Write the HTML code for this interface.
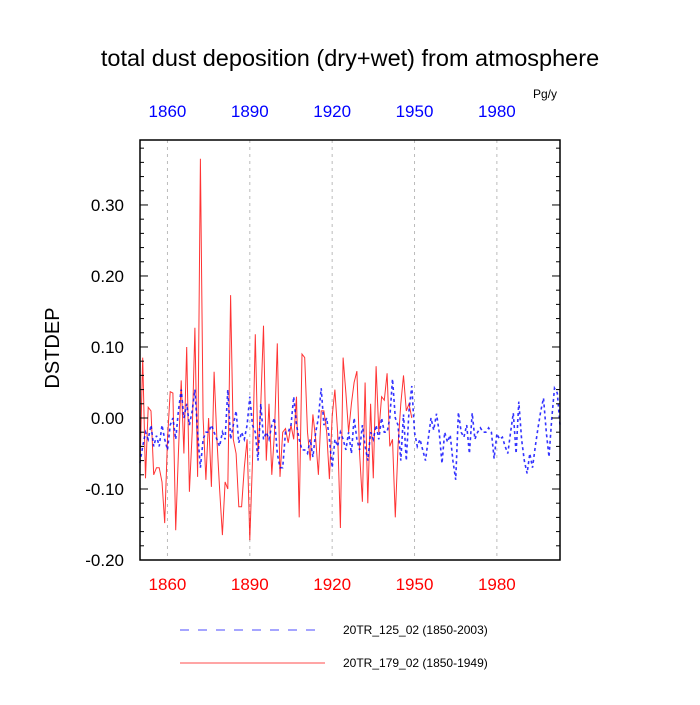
<!DOCTYPE html>
<html><head><meta charset="utf-8"><style>
body{margin:0;background:#fff;}
svg text{font-family:"Liberation Sans",sans-serif;}
</style></head><body>
<svg id="chart" width="700" height="700" viewBox="0 0 700 700" xmlns="http://www.w3.org/2000/svg">
<text x="350" y="66" text-anchor="middle" font-size="23.5">total dust deposition (dry+wet) from atmosphere</text>
<text x="545" y="98" text-anchor="middle" font-size="12">Pg/y</text>
<text transform="translate(59,348) rotate(-90)" text-anchor="middle" font-size="20">DSTDEP</text>
<g id="grid"></g>
<g id="series"></g>
<rect x="140" y="140" width="420" height="420" fill="none" stroke="#000" stroke-width="1.5"/>
<g id="axes"></g>
<g>
<line x1="180" y1="630" x2="318" y2="630" stroke="#00f" stroke-width="1" stroke-dasharray="9,9" opacity="0.7"/>
<text x="343" y="634" font-size="12">20TR_125_02 (1850-2003)</text>
<line x1="180" y1="663" x2="325" y2="663" stroke="#f00" stroke-width="1" opacity="0.7"/>
<text x="343" y="667" font-size="12">20TR_179_02 (1850-1949)</text>
</g>
</svg>
<script>
const redValues=[-0.07,0.085,-0.085,0.015,0.01,-0.08,-0.07,-0.07,-0.09,-0.148,-0.03,0.037,0.035,-0.158,-0.05,0.053,-0.05,0.1,-0.104,-0.02,0.127,-0.083,0.365,0.0,-0.087,0.0,-0.097,0.065,-0.03,-0.1,-0.165,-0.09,-0.1,0.173,-0.03,-0.05,-0.125,-0.125,-0.07,-0.03,-0.172,-0.06,0.118,-0.05,0.02,0.13,-0.06,0.02,-0.08,-0.02,0.105,-0.083,-0.02,-0.015,-0.035,-0.01,-0.03,0.03,-0.14,0.09,0.085,-0.02,-0.06,0.005,-0.03,-0.08,0.01,0.01,-0.02,-0.086,0.003,0.04,-0.02,-0.155,0.085,0.035,-0.02,0.02,0.05,0.066,-0.05,-0.118,0.05,-0.12,0.02,-0.085,0.073,-0.02,0.03,0.025,0.063,-0.04,-0.03,-0.14,-0.04,0.02,0.06,0.01,0.02,0.0];
const blueValues=[-0.063,-0.04,-0.02,-0.03,-0.01,-0.04,-0.025,-0.04,-0.01,-0.03,-0.045,-0.01,0.0,-0.03,0.01,0.04,0.0,0.02,-0.01,0.01,0.04,-0.02,-0.07,-0.03,-0.02,-0.02,-0.01,-0.02,-0.03,-0.04,-0.02,-0.03,0.04,-0.03,-0.01,0.01,-0.035,-0.02,-0.03,-0.01,0.03,-0.01,-0.02,-0.06,0.02,-0.03,-0.02,-0.03,-0.01,0.0,-0.05,-0.07,-0.07,-0.02,-0.02,-0.01,0.03,-0.01,-0.03,-0.045,-0.045,-0.05,-0.03,-0.055,-0.02,0.0,0.042,-0.01,0.0,-0.03,-0.07,-0.03,-0.04,-0.02,-0.03,-0.045,-0.02,-0.05,0.0,-0.03,-0.045,-0.01,-0.04,-0.06,-0.02,-0.03,-0.01,-0.03,0.0,-0.02,-0.02,0.0,0.055,0.0,-0.01,-0.06,0.005,-0.06,0.01,0.045,-0.02,-0.04,-0.03,-0.045,-0.06,-0.03,0.0,-0.017,0.006,-0.02,-0.064,-0.02,-0.034,-0.024,-0.06,-0.087,0.008,-0.02,-0.027,-0.01,-0.05,0.007,-0.03,-0.02,-0.014,-0.02,-0.02,-0.014,-0.02,-0.057,-0.022,-0.03,-0.027,-0.04,-0.05,-0.02,0.007,-0.05,0.023,-0.03,-0.06,-0.078,-0.05,-0.07,-0.04,-0.014,0.01,0.028,-0.02,-0.055,0.0,0.042,0.035,-0.01];
const startYear=1850;
const xTickYears=[1860,1890,1920,1950,1980];
const yTickValues=[0.3,0.2,0.1,0.0,-0.1,-0.2];
const yTickLabels=["0.30","0.20","0.10","0.00","-0.10","-0.20"];

const X0=140,X1=560,Y0=140,Y1=560,Ymin=-0.2,Ymax=0.3915,lastIdx=153;
const sx=yr=>X0+(yr-startYear)*(X1-X0)/lastIdx;
const sy=v=>Y1-(v-Ymin)*(Y1-Y0)/(Ymax-Ymin);
const NS="http://www.w3.org/2000/svg";
function mk(tag,parent,attrs){const e=document.createElementNS(NS,tag);for(const k in attrs)e.setAttribute(k,attrs[k]);parent.appendChild(e);return e;}
const grid=document.getElementById('grid'),axes=document.getElementById('axes'),series=document.getElementById('series');

xTickYears.forEach(yr=>{
  const x=sx(yr);
  const g=mk('line',grid,{x1:x,x2:x,y1:Y0,y2:Y1,stroke:'#bbb','stroke-width':1,'stroke-dasharray':'3,4'});
  
  
  const b=mk('text',axes,{x:x,y:590,'text-anchor':'middle','font-size':17,fill:'#f00'});
  b.textContent=yr;
  
  
  const t=mk('text',axes,{x:x,y:117,'text-anchor':'middle','font-size':17,fill:'#00f'});
  t.textContent=yr;
  
  
});
for(let v=-0.2;v<=0.39;v+=0.02){
  const y=sy(v);const major=Math.abs(Math.round(v*100)%10)===0;const len=major?8:4;
  const l=mk('line',axes,{x1:X0,x2:X0+len,y1:y,y2:y,stroke:'#000','stroke-width':1});
  
  
  const r=mk('line',axes,{x1:X1,x2:X1-len,y1:y,y2:y,stroke:'#000','stroke-width':1});
  
  
}
yTickValues.forEach((v,i)=>{
  const t=mk('text',axes,{x:124,y:sy(v)+6,'text-anchor':'end','font-size':17});
  t.textContent=yTickLabels[i];
  
  
});
function line(vals,color,dash,name,w){
  const pts=vals.map((v,i)=>sx(startYear+i).toFixed(1)+','+sy(v).toFixed(1)).join(' ');
  const p=mk('polyline',series,{points:pts,fill:'none',stroke:color,'stroke-width':w,opacity:0.8});
  if(dash)p.setAttribute('stroke-dasharray',dash);
  
  
}
line(redValues,'#f00',null,'series-20tr-179-02',1);
line(blueValues,'#00f','3,3','series-20tr-125-02',1.6);
</script>
</body></html>
